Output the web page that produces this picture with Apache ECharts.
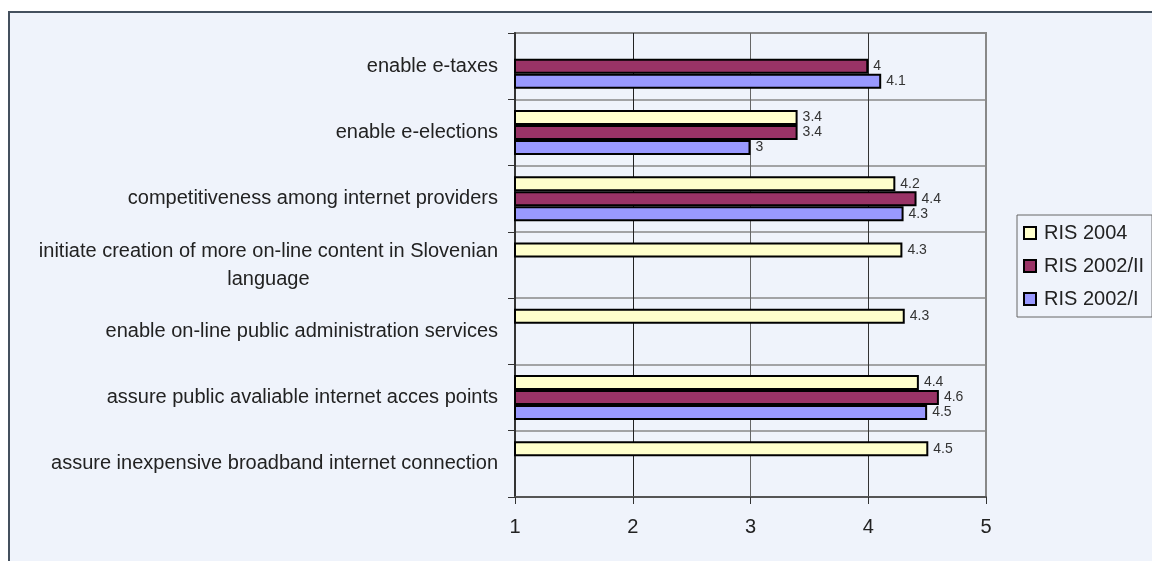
<!DOCTYPE html>
<html>
<head>
<meta charset="utf-8">
<script src="https://cdn.jsdelivr.net/npm/echarts@6/dist/echarts.min.js"></script>
<style>
  html, body { margin:0; padding:0; background:#ffffff; width:1152px; height:561px; overflow:hidden; }
  #frame { position:absolute; left:8px; top:11px; width:1200px; height:600px; background:#EFF3FB; border:2px solid #44505E; box-sizing:border-box; }
  #chart { position:absolute; left:0; top:0; width:1152px; height:561px; }
</style>
</head>
<body>
<div id="frame"></div>
<div id="chart"></div>
<script>
const categories = [
  "enable e-taxes",
  "enable e-elections",
  "competitiveness among internet providers",
  "initiate creation of more on-line content in Slovenian\nlanguage",
  "enable on-line public administration services",
  "assure public avaliable internet acces points",
  "assure inexpensive broadband internet connection"
];
const seriesNames = ["RIS 2004", "RIS 2002/II", "RIS 2002/I"];
const ris2004   = [null, 3.40, 4.23, 4.29, 4.31, 4.43, 4.51];
const ris2002ii = [4.00, 3.40, 4.41, null, null, 4.60, null];
const ris2002i  = [4.11, 3.00, 4.30, null, null, 4.50, null];
const xTicks = { min: 1, max: 5, interval: 1 };
const colors = ["#FFFFCC", "#993366", "#9999FF"];

const FONT = "'Liberation Sans', Arial, sans-serif";
const chart = echarts.init(document.getElementById('chart'), null, { renderer: 'canvas' });

function mkSeries(name, data, color) {
  return {
    name: name,
    type: 'bar',
    data: data,
    barWidth: 15,
    barGap: '0%',
    itemStyle: { color: color, borderColor: '#000', borderWidth: 2 },
    label: {
      show: true, position: 'right', distance: 5,
      fontFamily: FONT, fontSize: 14, color: '#333',
      formatter: p => (p.value == null ? '' : String(Number(p.value.toFixed(1))))
    }
  };
}

chart.setOption({
  backgroundColor: 'transparent',
  animation: false,
  textStyle: { fontFamily: FONT },
  grid: { left: 515, right: 166, top: 33, bottom: 64, show: true, borderColor: '#888', borderWidth: 2, backgroundColor: 'transparent' },
  legend: {
    orient: 'vertical',
    left: 1017, top: 215,
    padding: [8, 8, 8, 6],
    itemGap: 13,
    itemWidth: 12, itemHeight: 12,
    icon: 'rect',
    borderColor: '#666', borderWidth: 1,
    textStyle: { fontFamily: FONT, fontSize: 20, color: '#222', padding: [0, 0, 0, 3] },
    itemStyle: { borderColor: '#000', borderWidth: 2 },
    data: seriesNames
  },
  xAxis: {
    type: 'value',
    min: xTicks.min, max: xTicks.max, interval: xTicks.interval,
    axisLine: { show: true, lineStyle: { color: '#555', width: 2 } },
    axisTick: { show: true, length: 7, lineStyle: { color: '#333' } },
    axisLabel: { fontFamily: FONT, fontSize: 20, color: '#222', margin: 20 },
    splitLine: { show: true, lineStyle: { color: ['#333', '#222', '#666', '#333', '#888'], width: 1 } }
  },
  yAxis: {
    type: 'category',
    inverse: true,
    data: categories,
    axisLine: { show: true, lineStyle: { color: '#333', width: 2 } },
    axisTick: { show: true, length: 7, lineStyle: { color: '#333' } },
    splitLine: { show: true, lineStyle: { color: '#888', width: 1.5 } },
    axisLabel: {
      margin: 17,
      fontFamily: FONT, fontSize: 20, color: '#222', lineHeight: 28,
      formatter: v => v.split('\n').map(l => '{c|' + l + '}').join('\n'),
      rich: { c: { align: 'center', fontFamily: FONT, fontSize: 20, color: '#222', lineHeight: 28 } }
    }
  },
  series: [
    mkSeries(seriesNames[0], ris2004, colors[0]),
    mkSeries(seriesNames[1], ris2002ii, colors[1]),
    mkSeries(seriesNames[2], ris2002i, colors[2])
  ]
});
</script>
</body>
</html>
